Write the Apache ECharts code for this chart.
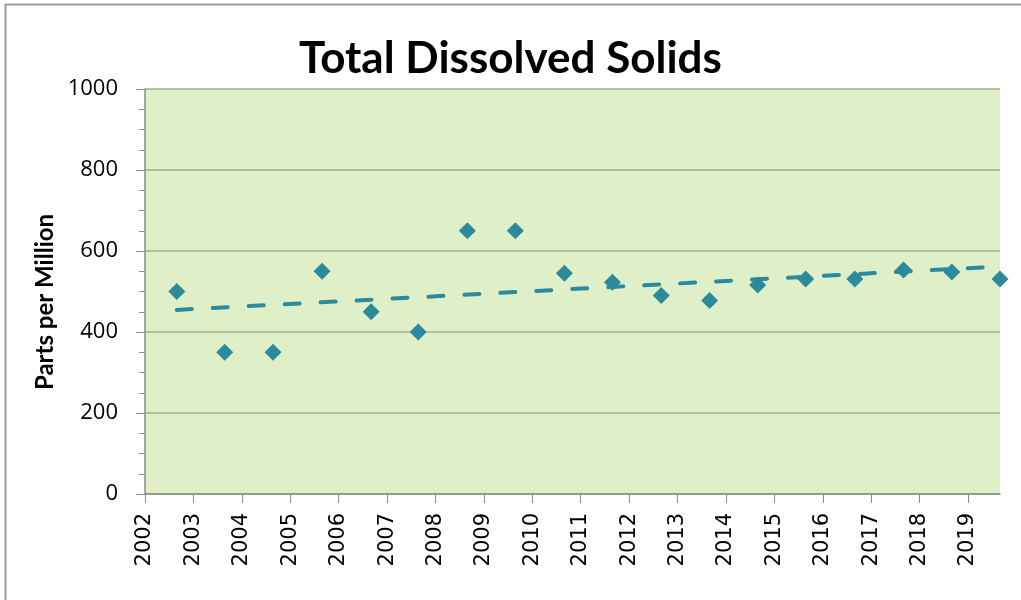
<!DOCTYPE html>
<html>
<head>
<meta charset="utf-8">
<title>Total Dissolved Solids</title>
<script src="https://cdn.jsdelivr.net/npm/echarts@6/dist/echarts.min.js"></script>
<style>
  html, body { margin: 0; padding: 0; background: #fff; }
  #chart { width: 1021px; height: 600px; }
</style>
</head>
<body>
<div id="chart"></div>
<script>
// sample dates and TDS readings (ppm)
var sampleDates = ['2002-08-29', '2003-08-25', '2004-08-24', '2005-08-29', '2006-09-03', '2007-08-24',
  '2008-08-29', '2009-08-26', '2010-08-31', '2011-08-28', '2012-08-31', '2013-08-31',
  '2014-08-28', '2015-08-25', '2016-08-30', '2017-09-02', '2018-09-01', '2019-08-30'];
var tdsValues = [500, 350, 350, 550, 450, 400, 650, 650, 545, 523, 490, 478, 516, 531, 531, 553, 548, 531];
var yearTicks = [2002, 2003, 2004, 2005, 2006, 2007, 2008, 2009, 2010, 2011, 2012, 2013, 2014, 2015, 2016, 2017, 2018, 2019];

// date string -> decimal year
function toYear(s) {
  var p = s.split('-');
  var y = +p[0];
  var start = Date.UTC(y, 0, 1);
  var end = Date.UTC(y + 1, 0, 1);
  var d = Date.UTC(y, +p[1] - 1, +p[2]);
  return y + (d - start) / (end - start);
}

var xs = sampleDates.map(toYear);
var points = xs.map(function (x, i) { return [x, tdsValues[i]]; });

// linear trendline (least squares), like Excel's
var n = xs.length, sx = 0, sy = 0, sxx = 0, sxy = 0;
for (var i = 0; i < n; i++) {
  sx += xs[i]; sy += tdsValues[i];
  sxx += xs[i] * xs[i]; sxy += xs[i] * tdsValues[i];
}
var slope = (n * sxy - sx * sy) / (n * sxx - sx * sx);
var icpt = (sy - slope * sx) / n;
var trend = [[xs[0], icpt + slope * xs[0]], [xs[n - 1], icpt + slope * xs[n - 1]]];

var teal = '#2b8a9c';
var myChart = echarts.init(document.getElementById('chart'));

var option = {
  animation: false,
  title: {
    text: 'Total Dissolved Solids',
    left: 'center',
    top: 32,
    textStyle: { fontFamily: 'Lato', fontWeight: 'bold', fontSize: 44, color: '#000' }
  },
  grid: {
    left: 145, right: 21, top: 89, bottom: 106,
    show: true, backgroundColor: '#dff0c9', borderWidth: 0
  },
  xAxis: {
    type: 'value',
    min: 2002,
    max: xs[n - 1],
    interval: 1,
    splitLine: { show: false },
    axisLine: { show: true, onZero: false, lineStyle: { color: '#8c8c8c', width: 1.5 } },
    axisTick: { show: true, length: 9, customValues: yearTicks, lineStyle: { color: '#8c8c8c' } },
    axisLabel: {
      customValues: yearTicks,
      rotate: 90,
      margin: 19,
      fontFamily: 'DejaVu Sans',
      fontSize: 21,
      color: '#000',
      formatter: function (v) { return String(Math.round(v)); }
    }
  },
  yAxis: {
    type: 'value',
    min: 0,
    max: 1000,
    interval: 200,
    axisLine: { show: true, lineStyle: { color: '#8c8c8c', width: 1.5 } },
    axisTick: { show: true, length: 9, lineStyle: { color: '#8c8c8c' } },
    minorTick: { show: true, splitNumber: 4, length: 6, lineStyle: { color: '#8c8c8c' } },
    splitLine: { show: true, lineStyle: { color: '#a3ab90', width: 1.5 } },
    axisLabel: {
      margin: 27, fontFamily: 'Open Sans', fontSize: 22, color: '#000',
      formatter: function (v) { return String(v); }
    }
  },
  graphic: [
    {
      type: 'text', x: 45, y: 302, rotation: Math.PI / 2,
      style: {
        text: 'Parts per Million', align: 'center', verticalAlign: 'middle',
        font: 'bold 24px Lato', fill: '#000'
      }
    },
    { type: 'line', shape: { x1: 5, y1: 4.5, x2: 1021, y2: 4.5 }, style: { stroke: '#9a9a9a', lineWidth: 2 } },
    { type: 'line', shape: { x1: 5.5, y1: 4, x2: 5.5, y2: 600 }, style: { stroke: '#9a9a9a', lineWidth: 2 } }
  ],
  series: [
    {
      name: 'TDS',
      type: 'scatter',
      symbol: 'diamond',
      symbolSize: 17,
      itemStyle: { color: teal, opacity: 1 },
      data: points,
      z: 2
    },
    {
      name: 'Trend',
      type: 'line',
      showSymbol: false,
      symbol: 'none',
      lineStyle: { color: teal, width: 4, type: [15, 21], cap: 'round' },
      data: trend,
      z: 3
    }
  ]
};

myChart.setOption(option);
</script>
</body>
</html>
